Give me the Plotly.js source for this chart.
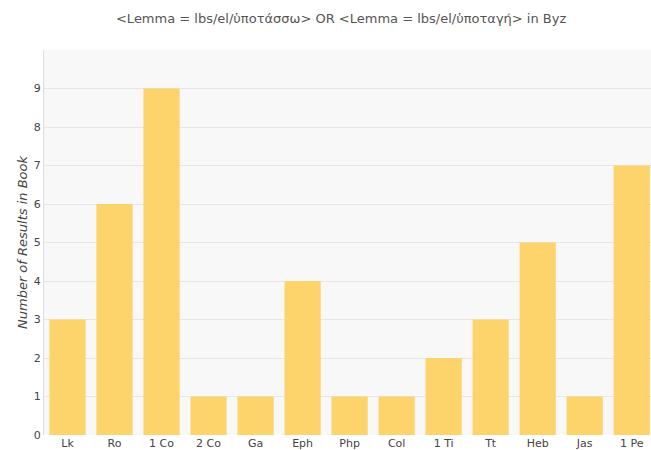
<!DOCTYPE html>
<html>
<head>
<meta charset="utf-8">
<script src="https://cdn.plot.ly/plotly-3.0.1.min.js"></script>
<style>html,body{margin:0;padding:0;overflow:hidden;background:#fff;}</style>
</head>
<body>
<div id="chart" style="width:651px;height:450px;"></div>
<script>
const books = ["Lk","Ro","1 Co","2 Co","Ga","Eph","Php","Col","1 Ti","Tt","Heb","Jas","1 Pe"];
const counts = [3,6,9,1,1,4,1,1,2,3,5,1,7];
const yTicks = [0,1,2,3,4,5,6,7,8,9];

Plotly.newPlot('chart', [{
  type: 'bar',
  x: books,
  y: counts,
  marker: {color: '#fdd36c', line: {width: 0}},
  hoverinfo: 'x+y'
}], {
  width: 651, height: 450,
  margin: {l: 44, r: 0, t: 50, b: 15, pad: 0},
  paper_bgcolor: '#ffffff',
  plot_bgcolor: '#f8f8f8',
  bargap: 0.23,
  font: {family: 'DejaVu Sans, sans-serif', size: 11, color: '#444'},
  title: {text: '&lt;Lemma = lbs/el/ὑποτάσσω&gt; OR &lt;Lemma = lbs/el/ὑποταγή&gt; in Byz',
          x: 0.524, xanchor: 'center', y: 0.96, yanchor: 'middle',
          font: {size: 13, color: '#555', family: 'DejaVu Sans, sans-serif'}},
  xaxis: {
    type: 'category', range: [-0.5, 12.41], autorange: false,
    showgrid: false, zeroline: false, showline: false,
    ticks: '', tickfont: {size: 11, color: '#444'}
  },
  yaxis: {
    range: [0, 10], autorange: false,
    tickvals: yTicks, ticktext: yTicks.map(String),
    showgrid: true, gridcolor: '#e6e6e6', gridwidth: 1,
    zeroline: false, showline: true, linecolor: '#dddddd', linewidth: 1,
    ticks: '', tickfont: {size: 11, color: '#444'},
    title: {text: '<i>Number of Results in Book</i>', standoff: 3,
            font: {size: 13, color: '#444'}}
  },
  showlegend: false
}, {displayModeBar: false});
</script>
</body>
</html>
